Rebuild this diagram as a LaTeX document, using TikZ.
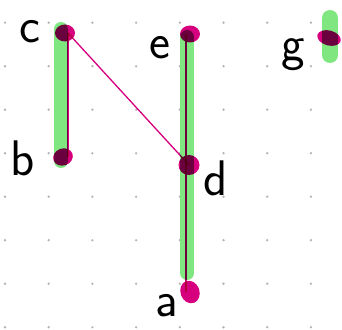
\documentclass[tikz,border=0pt]{standalone}
\usepackage{tikz}
\usetikzlibrary{shapes.geometric}
\definecolor{hlgreen}{HTML}{80E680}
\definecolor{penpink}{HTML}{D6007F}
\definecolor{griddot}{HTML}{B4B4B4}
\tikzset{
  % knoter och kanter
  gv/.style={ellipse,fill=penpink,inner sep=0pt,minimum width=20pt,
             minimum height=17pt},
  ge/.style={draw=penpink,line width=1.3pt},
  hl/.style={draw=hlgreen,line width=14pt,line cap=round},
  lbl/.style={font=\sffamily\fontsize{50}{50}\selectfont,inner sep=0pt},
}

\begin{document}
\begin{tikzpicture}[x=1pt,y=-1pt]
\useasboundingbox (0,0) rectangle (342,329);
  % rutnät
  \foreach \i in {0,...,7}
    \foreach \j in {0,...,7}
      \fill[griddot] (5+43.7*\i,22.7+43.5*\j) circle (1.3pt);
  % markeringar
  \coordinate (h1) at (61,29);
  \coordinate (h2) at (61,161);
  \coordinate (h3) at (187,37);
  \coordinate (h4) at (187,273);
  \coordinate (h5) at (330,18);
  \coordinate (h6) at (330,55);
  \draw[hl] (h1) -- (h2);
  \draw[hl] (h3) -- (h4);
  \draw[hl,line width=16pt] (h5) -- (h6);
  \begin{scope}[blend mode=multiply]
  \node[gv] (c) at (65,33) {};
  \node[gv,rotate=20] (b) at (63,157) {};
  \node[gv] (e) at (190,34) {};
  \node[gv,minimum width=21pt,minimum height=20pt] (d) at (189,165) {};
  \node[gv,minimum width=19pt,minimum height=23pt,rotate=20] (a) at (190,292) {};
  \node[gv,minimum width=24pt,minimum height=15pt,rotate=-15] (g) at (329,38) {};
  \draw[ge] ([xshift=3pt]c.center) -- ([xshift=3pt]c.center |- b.center);
  \draw[ge] ([xshift=3pt]c.center) -- (d.center);
  \draw[ge] ([xshift=-4pt]e.center) -- ([xshift=-4pt]e.center |- a.center);
  \end{scope}
  % etiketter
  \node[lbl] (lc) at (30,32) {c};
  \node[lbl] (lb) at (23,158) {b};
  \node[lbl] (le) at (160,48) {e};
  \node[lbl] (ld) at (216,178) {d};
  \node[lbl] (la) at (167,306) {a};
  \node[lbl] (lg) at (293,55) {g};
\end{tikzpicture}
\end{document}
